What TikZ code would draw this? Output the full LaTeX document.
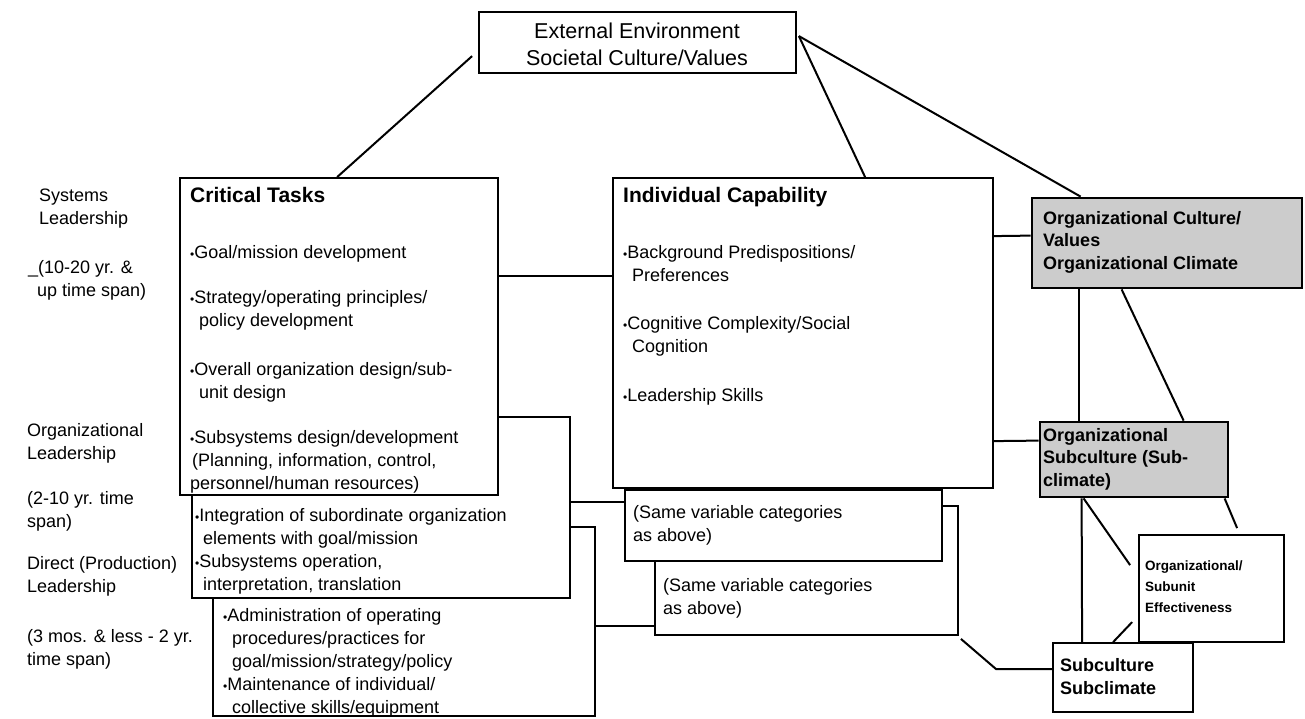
\documentclass[tikz,border=0pt]{standalone}
\usepackage{fontspec}
\setmainfont{Liberation Sans}
\usetikzlibrary{fit,calc}
\definecolor{shade}{RGB}{204,204,204}
\newcommand{\tbul}{{\fontsize{12}{12}\selectfont •}}
\tikzset{
  box/.style={draw, line width=1.8pt, inner sep=0pt, fill=white},
  gbox/.style={draw, line width=2.8pt, inner sep=0pt, fill=shade},
  txt/.style={anchor=base west, inner sep=0pt, align=left, font=\fontsize{18}{23}\selectfont},
  ttl/.style={anchor=base west, inner sep=0pt, font=\fontsize{21}{25}\selectfont\bfseries},
  btxt/.style={anchor=base west, inner sep=0pt, align=left, font=\fontsize{18}{22.5}\selectfont\bfseries},
  conn/.style={line width=2pt},
}
\begin{document}
\begin{tikzpicture}[x=1pt,y=-1pt]
\useasboundingbox[fill=white] (0,0) rectangle (1305,718);

% boxes, back to front
\node[box, fit={(479,12) (796,73)}] (ext) {};
\node[box, fit={(655,506) (958,635)}] (sb) {};
\node[box, fit={(625,490) (942,561)}] (sa) {};
\node[box, fit={(613,178) (993,488)}] (ic) {};
\node[box, fit={(213,527) (595,716)}] (b3) {};
\node[box, fit={(192,417) (570,598)}] (b2) {};
\node[box, fit={(180,178) (498,495)}] (ct) {};
\node[gbox, fit={(1032,198) (1302,288)}] (oc) {};
\node[gbox, fit={(1040,422) (1228,497)}] (os) {};
\node[box, fit={(1139,535) (1284,642)}] (eff) {};
\node[box, fit={(1053,643) (1193,712)}] (ss) {};

% left labels (anchor = baseline of last line)
\node[txt] (l1) at (39,224) {Systems\\Leadership};
\node[txt] (l2) at (28,296) {\_(10-20 yr. \&\\\hspace*{9pt}up time span)};
\node[txt] (l3) at (27,459) {Organizational\\Leadership};
\node[txt] (l4) at (27,527) {(2-10 yr. time\\span)};
\node[txt] (l5) at (27,592) {Direct (Production)\\Leadership};
\node[txt] (l6) at (27,665) {(3 mos. \& less - 2 yr.\\time span)};

% top
\node[font=\fontsize{21.5}{27}\selectfont, align=center, anchor=base, inner sep=0pt] (extt) at (637,65.5) {External Environment\\Societal Culture/Values};

% critical tasks
\node[ttl] (ctt) at (190,202) {Critical Tasks};
\node[txt] (ct1) at (190,258) {\tbul Goal/mission development};
\node[txt] (ct2) at (190,326) {\tbul Strategy/operating principles/\\\hspace*{9pt}policy development};
\node[txt] (ct3) at (190,398) {\tbul Overall organization design/sub-\\\hspace*{9pt}unit design};
\node[txt] (ct4) at (190,489) {\tbul Subsystems design/development\\\hspace*{2pt}(Planning, information, control,\\personnel/human resources)};

\node[txt] (b2t) at (195,590) {\tbul Integration of subordinate organization\\\hspace*{8pt}elements with goal/mission\\\tbul Subsystems operation,\\\hspace*{8pt}interpretation, translation};
\node[txt] (b3t) at (223,713) {\tbul Administration of operating\\\hspace*{9pt}procedures/practices for\\\hspace*{9pt}goal/mission/strategy/policy\\\tbul Maintenance of individual/\\\hspace*{9pt}collective skills/equipment};

% individual capability
\node[ttl] (ict) at (623,202) {Individual Capability};
\node[txt] (ic1) at (623,281) {\tbul Background Predispositions/\\\hspace*{9pt}Preferences};
\node[txt] (ic2) at (623,352) {\tbul Cognitive Complexity/Social\\\hspace*{9pt}Cognition};
\node[txt] (ic3) at (623,401) {\tbul Leadership Skills};

\node[txt] (sat) at (633,541) {(Same variable categories\\as above)};
\node[txt] (sbt) at (663,614) {(Same variable categories\\as above)};

% right side
\node[btxt] (oct) at (1043,269) {Organizational Culture/\\Values\\Organizational Climate};
\node[btxt] (ost) at (1043,486) {Organizational\\Subculture (Sub-\\climate)};
\node[anchor=base west, inner sep=0pt, align=left, font=\fontsize{13.5}{21}\selectfont\bfseries] (efft) at (1145,612) {Organizational/\\Subunit\\Effectiveness};
\node[anchor=base west, inner sep=0pt, align=left, font=\fontsize{18}{23}\selectfont\bfseries] (sst) at (1060,694) {Subculture\\Subclimate};

% connectors
\draw[conn] ($(ext.north west)+(-6,45)$) -- ($(ct.north west)+(158,0)$);
\draw[conn] ($(ext.north east)+(2,25)$) -- ($(ic.north west)+(253,0)$);
\draw[conn] ($(ext.north east)+(2,25)$) -- ($(oc.north west)+(50,0)$);
\draw[conn] ($(ct.north east)+(0,99)$) -- ($(ic.north west)+(0,99)$);
\draw[conn] ($(b2.north east)+(0,86)$) -- ($(sa.north west)+(0,13)$);
\draw[conn] ($(b3.north east)+(0,100)$) -- ($(sb.north west)+(0,121)$);
\draw[conn] ($(ic.north east)+(0,59)$) -- ($(oc.north west)+(0,39)$);
\draw[conn] ($(ic.north east)+(0,264)$) -- ($(os.north west)+(0,20)$);
\draw[conn] ($(oc.south west)+(48,0)$) -- ($(os.north west)+(40,0)$);
\draw[conn] ($(oc.south west)+(91,0)$) -- ($(os.north west)+(145,0)$);
\draw[conn] ($(os.south west)+(45,0)$) -- ($(eff.north west)+(-8,31)$);
\draw[conn] ($(os.south west)+(186,0)$) -- ($(eff.north west)+(99,-6)$);
\draw[conn] ($(os.south west)+(43,0)$) -- ($(ss.north west)+(30,0)$);
\draw[conn] ($(eff.north west)+(-6,88)$) -- ($(ss.north west)+(61,0)$);
\draw[conn] ($(sb.south east)+(2,3)$) -- ($(ss.north west)+(-56,27)$) -- ($(ss.north west)+(0,27)$);
\end{tikzpicture}
\end{document}
